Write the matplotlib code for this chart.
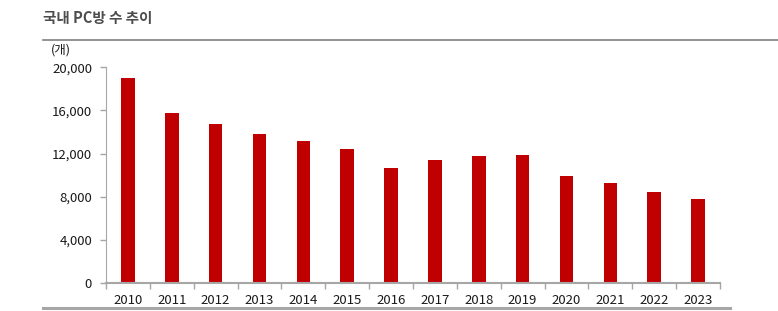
import matplotlib.pyplot as plt
import numpy as np

plt.rcParams['font.family'] = ['Noto Sans CJK KR', 'DejaVu Sans']

years = ['2010', '2011', '2012', '2013', '2014', '2015', '2016',
         '2017', '2018', '2019', '2020', '2021', '2022', '2023']
pc_bang = [19010, 15800, 14780, 13790, 13150, 12470, 10650,
           11360, 11790, 11850, 9960, 9260, 8480, 7770]
y_ticks = [0, 4000, 8000, 12000, 16000, 20000]

W, H = 778, 311
fig = plt.figure(figsize=(W / 100, H / 100), dpi=100)
ax = fig.add_axes([106 / W, (H - 283) / H, (720 - 106) / W, (283 - 67.3) / H])

x = np.arange(len(years))
ax.bar(x, pc_bang, width=0.31, color='#C00000', zorder=2)

ax.set_xlim(-0.5, len(years) - 0.5)
ax.set_ylim(0, 20000)
ax.set_yticks(y_ticks)
ax.set_yticklabels([f'{v:,}' for v in y_ticks], fontsize=9.5, color='#1A1A1A')

# category ticks between bars
ax.set_xticks(np.arange(-0.5, len(years) + 0.5, 1))
ax.set_xticklabels([])
ax.set_xticks(x, minor=True)
ax.set_xticklabels(years, minor=True, fontsize=9.5, color='#1A1A1A')
ax.tick_params(axis='x', which='major', length=4, color='#A6A6A6', width=1)
ax.tick_params(axis='x', which='minor', length=0, pad=8)
ax.tick_params(axis='y', length=4, color='#A6A6A6', width=1, pad=6)

for s in ['top', 'right']:
    ax.spines[s].set_visible(False)
ax.spines['left'].set_color('#A6A6A6')
ax.spines['bottom'].set_color('#A6A6A6')
ax.spines['bottom'].set_linewidth(1.5)

# title and rules
fig.text(43 / W, 1 - 18 / H, '국내 PC방 수 추이', fontsize=10.5, fontweight='bold',
         color='#4D4D4D', ha='left', va='center')
fig.add_artist(plt.Line2D([43 / W, 1.0], [1 - 39.5 / H] * 2, color='#7F7F7F', lw=1.2))
fig.add_artist(plt.Line2D([43 / W, 730 / W], [1 - 308 / H] * 2, color='#A6A6A6', lw=2.2))
fig.text(51 / W, 1 - 50 / H, '(개)', fontsize=9, color='#1A1A1A', ha='left', va='center')

fig.savefig('out.png', dpi=100)
